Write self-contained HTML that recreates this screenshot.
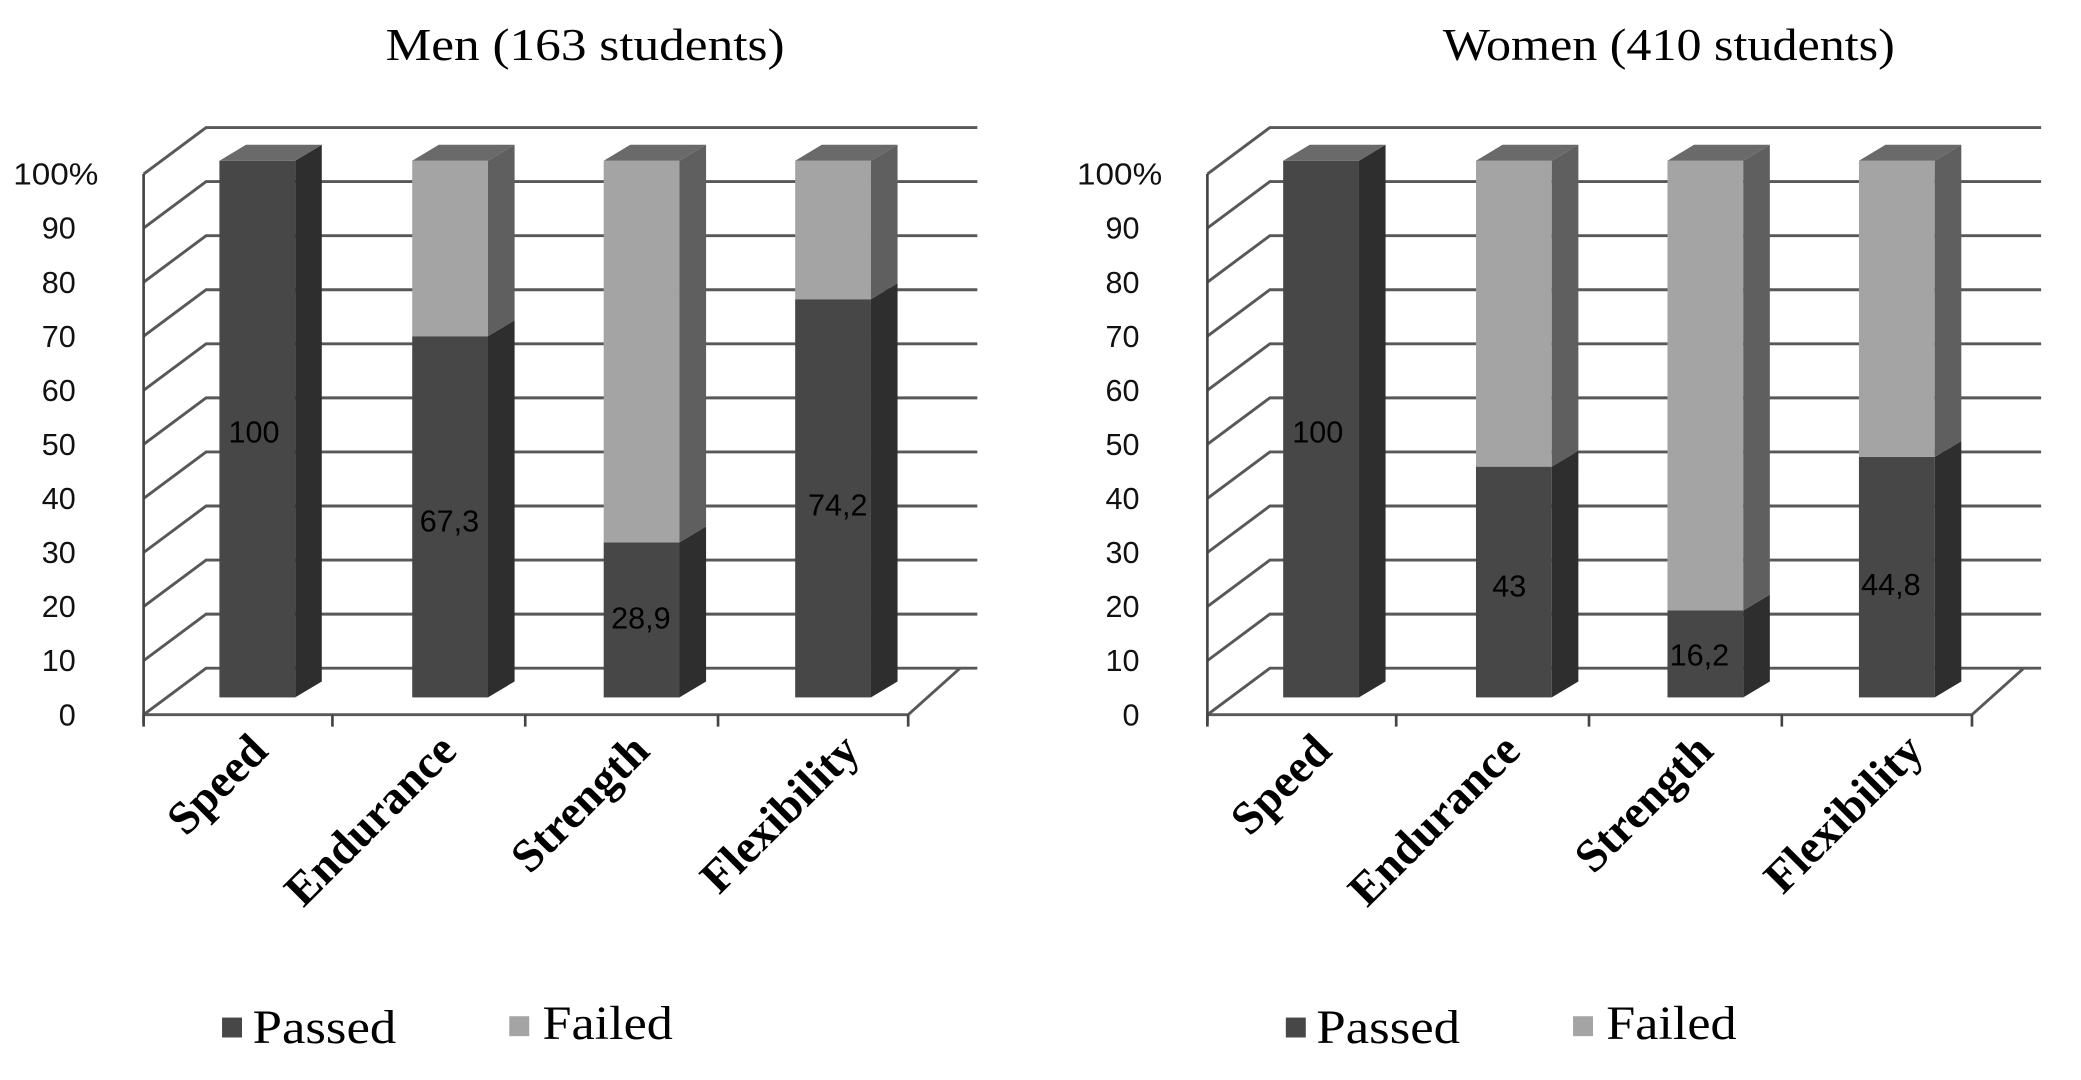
<!DOCTYPE html>
<html><head><meta charset="utf-8"><style>
html,body{margin:0;padding:0;background:#fff;}
svg{display:block;}
</style></head><body>
<svg id="s" width="2081" height="1080" viewBox="0 0 1565 813" preserveAspectRatio="none" xmlns="http://www.w3.org/2000/svg">
<text x="440" y="45" text-anchor="middle" font-family="Liberation Serif, serif" font-size="34" textLength="300" lengthAdjust="spacingAndGlyphs">Men (163 students)</text>
<text x="1255" y="45" text-anchor="middle" font-family="Liberation Serif, serif" font-size="34" textLength="340" lengthAdjust="spacingAndGlyphs">Women (410 students)</text>
</svg>
<script>
var s=document.getElementById('s');var NS='http://www.w3.org/2000/svg';
function el(t,a,txt){var e=document.createElementNS(NS,t);for(var k in a)e.setAttribute(k,a[k]);if(txt!=null)e.textContent=txt;s.appendChild(e);return e;}
function chart(ox,vals,labs){
  var ax=108+ox;
  for(var i=0;i<=10;i++){
    var yf=538-i*40.7, yb=yf-35;
    el('polyline',{points:ax+','+yf+' '+(ax+47)+','+yb+' '+(735+ox)+','+yb,fill:'none',stroke:'#585858','stroke-width':2.2});
    if(i==10) el('text',{x:ox+10,y:yf+8,'font-family':'Liberation Sans, sans-serif','font-size':23,fill:'#111',textLength:64,lengthAdjust:'spacingAndGlyphs'},'100%');
    else el('text',{x:ox+57,y:yf+8,'text-anchor':'end','font-family':'Liberation Sans, sans-serif','font-size':23,fill:'#111'},String(i*10));
  }
  el('polyline',{points:ax+',538 '+(683+ox)+',538 '+(722+ox)+',503',fill:'none',stroke:'#585858','stroke-width':2.2});
  el('line',{x1:ax,y1:131,x2:ax,y2:545,stroke:'#444','stroke-width':2});
  [108,250,395,540,683].forEach(function(x){el('line',{x1:x+ox,y1:538,x2:x+ox,y2:547,stroke:'#444','stroke-width':2});});
  var xs=[165,310,454,598];
  for(var j=0;j<4;j++){
    var x=xs[j]+ox,w=57,d=20,h=12,yb=525,yt=121,yp=yb-vals[j]*4.04;
    el('rect',{x:x,y:yp,width:w,height:yb-yp,fill:'#474747'});
    el('polygon',{points:(x+w)+','+yb+' '+(x+w+d)+','+(yb-h)+' '+(x+w+d)+','+(yp-h)+' '+(x+w)+','+yp,fill:'#2e2e2e'});
    if(vals[j]<100){
      el('rect',{x:x,y:yt,width:w,height:yp-yt,fill:'#a4a4a4'});
      el('polygon',{points:(x+w)+','+yp+' '+(x+w+d)+','+(yp-h)+' '+(x+w+d)+','+(yt-h)+' '+(x+w)+','+yt,fill:'#5f5f5f'});
    }
    el('polygon',{points:x+','+yt+' '+(x+w)+','+yt+' '+(x+w+d)+','+(yt-h)+' '+(x+d)+','+(yt-h),fill:'#6a6a6a'});
    el('text',{x:labs[j][0]+ox,y:labs[j][1],'text-anchor':'middle','font-family':'Liberation Sans, sans-serif','font-size':23,fill:'#000'},labs[j][2]);
  }
  var cats=['Speed','Endurance','Strength','Flexibility'],ex=[203,345,490,648];
  for(var j=0;j<4;j++){
    el('text',{x:0,y:0,transform:'translate('+(ex[j]+ox)+',567) rotate(-45)','text-anchor':'end','font-family':'Liberation Serif, serif','font-size':35,'font-weight':'bold',fill:'#000'},cats[j]);
  }
  el('rect',{x:167+ox,y:766,width:15,height:15,fill:'#474747'});
  el('text',{x:190+ox,y:785,'font-family':'Liberation Serif, serif','font-size':36,fill:'#000',textLength:108,lengthAdjust:'spacingAndGlyphs'},'Passed');
  el('rect',{x:383+ox,y:765,width:15,height:15,fill:'#a4a4a4'});
  el('text',{x:408+ox,y:782,'font-family':'Liberation Serif, serif','font-size':36,fill:'#000',textLength:98,lengthAdjust:'spacingAndGlyphs'},'Failed');
}
chart(0,[100,67.3,28.9,74.2],[[191,333,'100'],[338,400,'67,3'],[482,473,'28,9'],[630,388,'74,2']]);
chart(800,[100,43,16.2,44.8],[[191,333,'100'],[335,449,'43'],[478,501,'16,2'],[622,448,'44,8']]);
</script>
</body></html>
